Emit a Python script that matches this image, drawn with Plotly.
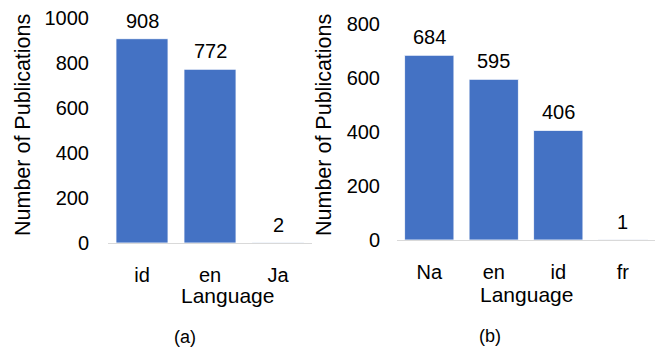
import plotly.graph_objects as go

# Panel (a)
langs_a = ["id", "en", "Ja"]
counts_a = [908, 772, 2]

# Panel (b)
langs_b = ["Na", "en", "id", "fr"]
counts_b = [684, 595, 406, 1]

BAR = "#4472C4"
FONT = "Liberation Sans, Arial, sans-serif"
FS = 20
W, H = 665, 347

fig = go.Figure()
fig.add_trace(go.Bar(x=langs_a, y=counts_a, marker=dict(color=BAR, line=dict(color="white", width=0.8)),
                     xaxis="x", yaxis="y", showlegend=False))
fig.add_trace(go.Bar(x=langs_b, y=counts_b, marker=dict(color=BAR, line=dict(color="white", width=0.8)),
                     xaxis="x2", yaxis="y2", showlegend=False))

annotations = []
# value labels above each bar
for xs, ys, xr, yr in [(langs_a, counts_a, "x", "y"), (langs_b, counts_b, "x2", "y2")]:
    for c, v in zip(xs, ys):
        annotations.append(dict(x=c, y=v, xref=xr, yref=yr, text=str(v), showarrow=False,
                                yanchor="bottom", yshift=5, font=dict(size=FS, color="#000", family=FONT)))


def paper_text(px, py, text, size, angle=0):
    return dict(x=px / W, y=1 - py / H, xref="paper", yref="paper", text=text, textangle=angle,
                xanchor="center", yanchor="middle", showarrow=False,
                font=dict(size=size, color="#000", family=FONT))


# axis titles and panel captions
annotations += [
    paper_text(23, 125, "Number of Publications", 21.5, -90),
    paper_text(324, 125, "Number of Publications", 21.5, -90),
    paper_text(227, 295, "Language", 21),
    paper_text(526, 294, "Language", 21),
    paper_text(184.5, 337, "(a)", 18),
    paper_text(489.5, 336, "(b)", 18),
]

axis_common = dict(showgrid=False, zeroline=False, automargin=False,
                   tickfont=dict(size=FS, color="#000", family=FONT))

fig.update_layout(
    width=W, height=H,
    margin=dict(l=0, r=0, t=0, b=0),
    paper_bgcolor="white", plot_bgcolor="white",
    bargap=0.235,
    font=dict(family=FONT, color="#000"),
    xaxis=dict(domain=[108 / W, 312 / W], anchor="y", showline=True, linecolor="#D9D9D9", linewidth=1,
               ticks="", ticklabelstandoff=14, **axis_common),
    yaxis=dict(domain=[(H - 243) / H, (H - 18) / H], anchor="x", range=[0, 1000], dtick=200,
               showline=False, ticks="", ticklabelstandoff=18, **axis_common),
    xaxis2=dict(domain=[397 / W, 655 / W], anchor="y2", showline=True, linecolor="#D9D9D9", linewidth=1,
                ticks="", ticklabelstandoff=14, **axis_common),
    yaxis2=dict(domain=[(H - 240) / H, (H - 24) / H], anchor="x2", range=[0, 800], dtick=200,
                showline=False, ticks="", ticklabelstandoff=16, **axis_common),
    annotations=annotations,
)

fig.write_html("out.html")
